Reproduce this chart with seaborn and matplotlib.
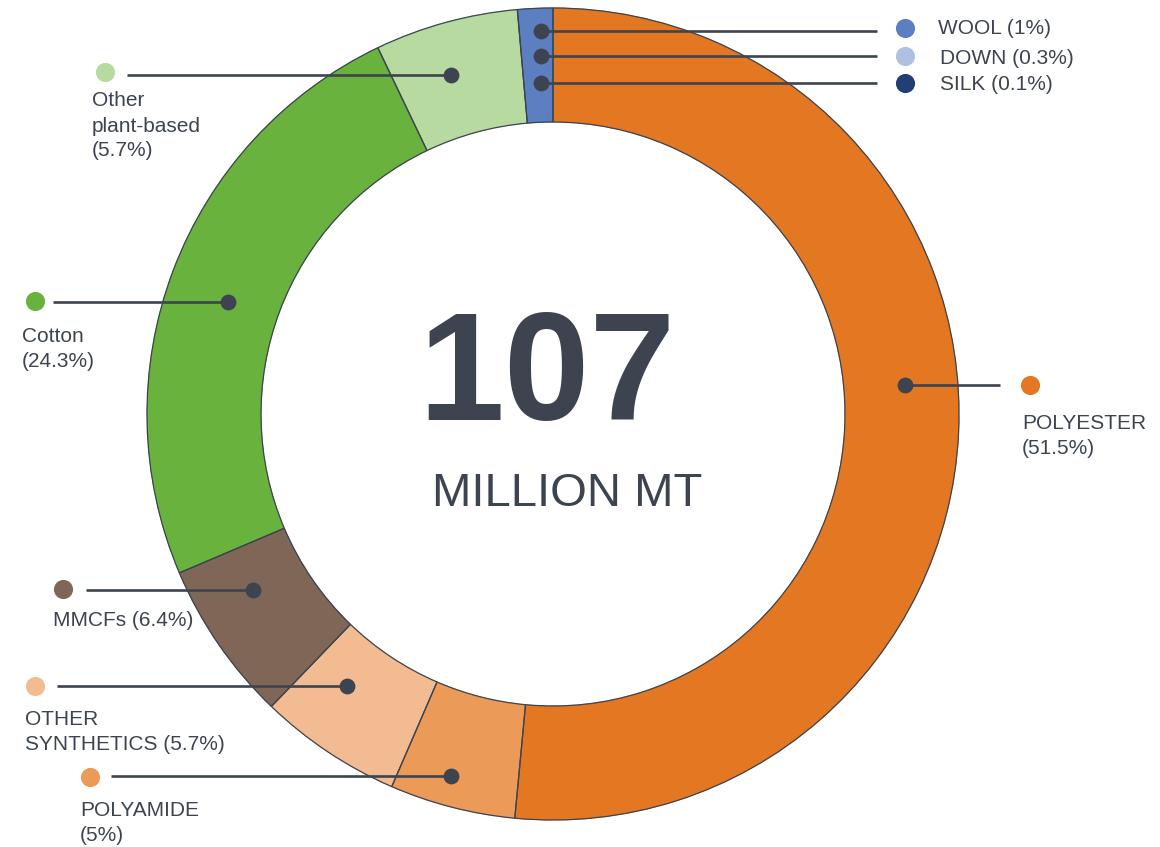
import matplotlib.pyplot as plt
import seaborn as sns

# fibre production shares (%), clockwise from 12 o'clock
categories = ["POLYESTER", "POLYAMIDE", "OTHER SYNTHETICS", "MMCFs", "Cotton",
              "Other plant-based", "WOOL", "DOWN", "SILK"]
shares = [51.5, 5, 5.7, 6.4, 24.3, 5.7, 1, 0.3, 0.1]
labels = ["POLYESTER\n(51.5%)", "POLYAMIDE\n(5%)", "OTHER\nSYNTHETICS (5.7%)",
          "MMCFs (6.4%)", "Cotton\n(24.3%)", "Other\nplant-based\n(5.7%)",
          "WOOL (1%)", "DOWN (0.3%)", "SILK (0.1%)"]
colors = ["#E47722", "#EB9A58", "#F3BB91", "#7F6657", "#6AB23E",
          "#B7DAA0", "#5B7FC0", "#AFC0E2", "#223F74"]
total = "107"
unit = "MILLION MT"

dark = "#3D4450"

# layout (pixel coords, y down)
center = (553, 414)
R = 406
ring = 114
dot_xy = [(905, 385), (451, 776), (347, 686), (253, 590), (228, 302),
          (451, 75), (541, 31), (541, 56), (541, 83)]
marker_xy = [(1030, 385), (90, 777), (35, 686), (63, 589), (35, 301),
             (105, 72), (905, 28), (905, 56), (905, 83)]
line_end = [1000, 111, 57, 86, 53, 127, 877, 877, 877]
text_xy = [(1022, 436), (80, 823), (25, 732), (53, 621), (22, 349),
           (92, 126), (938, 29), (940, 58), (940, 85)]

sns.set_style("white")
plt.rcParams["font.family"] = ["Liberation Sans", "DejaVu Sans"]

fig = plt.figure(figsize=(11.6, 8.47), dpi=100)
ax = fig.add_axes([0, 0, 1, 1])

# ring: wool/down/silk share one blue strip like the original
ring_colors = colors[:7] + [colors[6]] * 2
wedges, _ = ax.pie(shares, colors=ring_colors, startangle=-90, counterclock=True,
                   center=center, radius=R, wedgeprops=dict(width=ring))
for w in wedges:
    w.set_edgecolor(w.get_facecolor())
    w.set_linewidth(0.6)
# outlines, with the three animal fibres grouped
outline = shares[:6] + [sum(shares[6:])]
ax.pie(outline, colors=["none"] * len(outline), startangle=-90, counterclock=True,
       center=center, radius=R,
       wedgeprops=dict(width=ring, edgecolor=dark, linewidth=0.9, facecolor="none"))

for i in range(len(categories)):
    dx, dy = dot_xy[i]
    mx, my = marker_xy[i]
    ax.plot([dx, line_end[i]], [dy, dy], color=dark, lw=1.9, zorder=3,
            solid_capstyle="butt")
    ax.scatter([dx], [dy], s=130, color=dark, zorder=4, linewidths=0)
    ax.scatter([mx], [my], s=190, color=colors[i], zorder=4, linewidths=0)
    tx, ty = text_xy[i]
    ax.text(tx, ty, labels[i], ha="left", va="center", fontsize=15,
            color=dark, linespacing=1.4)

ax.text(547, 380, total, ha="center", va="center", fontsize=111,
        fontweight="bold", color=dark)
ax.text(567, 494, unit, ha="center", va="center", fontsize=34, color=dark)

ax.set_xlim(0, 1160)
ax.set_ylim(847, 0)
ax.set_aspect("equal")
ax.axis("off")

fig.savefig("out.png", dpi=100, facecolor="white")
